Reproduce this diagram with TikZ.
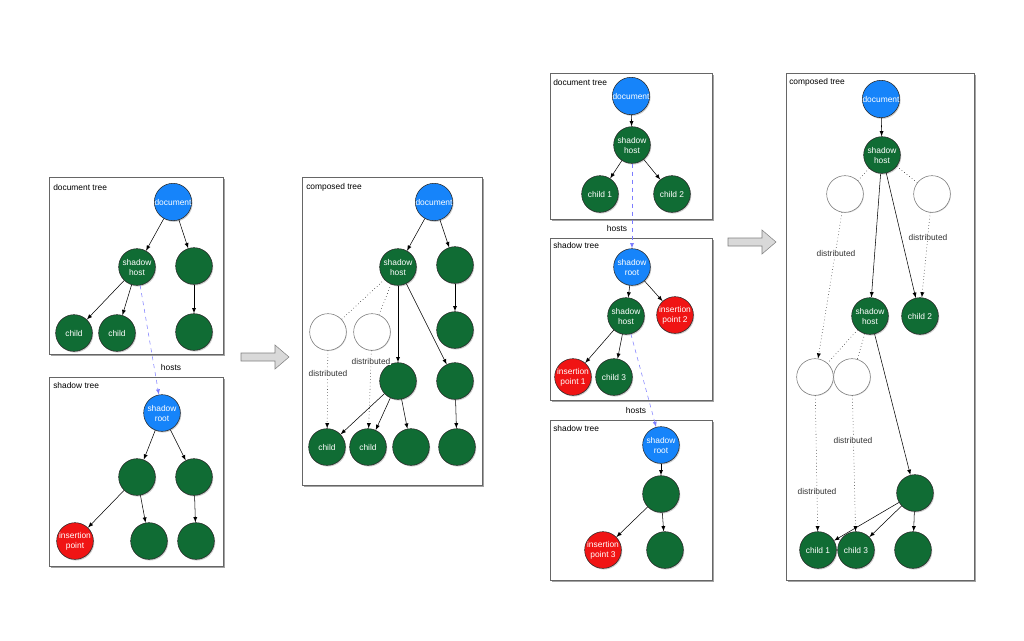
\documentclass[tikz,border=0pt]{standalone}
\usepackage{fontspec}
\setmainfont{Liberation Sans}
\usetikzlibrary{positioning,shadows}
\definecolor{docblue}{RGB}{22,132,250}
\definecolor{nodegreen}{RGB}{16,108,52}
\definecolor{ipred}{RGB}{240,20,20}
\definecolor{hostblue}{RGB}{125,125,255}

\tikzset{
  nd/.style={circle, draw=black!85, minimum size=27.5pt, inner sep=0pt, text=white, align=center,
    drop shadow={shadow xshift=0.7pt, shadow yshift=-0.9pt, opacity=0.4}},
  doc/.style={nd, fill=docblue},
  grn/.style={nd, fill=nodegreen},
  ins/.style={nd, fill=ipred},
  ghost/.style={circle, draw=black!55, fill=white, minimum size=27.5pt, inner sep=0pt,
    drop shadow={shadow xshift=0.5pt, shadow yshift=-0.5pt, opacity=0.25}},
  panel/.style={draw=black!60, fill=white,
    drop shadow={shadow xshift=1.5pt, shadow yshift=-1.5pt, fill=black!60, opacity=0.6}},
  ttl/.style={anchor=west, inner sep=0pt},
  dist/.style={fill=white, inner sep=0.5pt, text=black!80},
  hosts/.style={dashed, draw=hostblue, -latex},
  bigarrow/.style={draw=black!50, fill=black!15}
}

\begin{document}
\begin{tikzpicture}[x=0.75pt,y=-0.75pt, every node/.style={font=\fontsize{6.3}{7.5}\selectfont}]
  \useasboundingbox (0,0) rectangle (1024,640);

  % left: document tree
  \draw[panel] (49,177) rectangle (223,354);
  \node[ttl] (ta) at (53,187) {document tree};
  \node[doc] (a_doc) at (173,202) {document};
  \node[grn] (a_host) at (137,267) {shadow\\host};
  \node[grn] (a_r1) at (194,266) {};
  \node[grn] (a_c1) at (74,333) {child};
  \node[grn] (a_c2) at (117,333) {child};
  \node[grn] (a_r2) at (194,332) {};
  \draw[-latex] (a_doc) -- (a_host);
  \draw[-latex] (a_doc) -- (a_r1);
  \draw[-latex] (a_host) -- (a_c1);
  \draw[-latex] (a_host) -- (a_c2);
  \draw[-latex] (a_r1) -- (a_r2);

  % left: shadow tree
  \draw[panel] (49,377) rectangle (223,566);
  \node[ttl] (tb) at (53,385) {shadow tree};
  \node[doc] (b_root) at (162,413) {shadow\\root};
  \node[grn] (b_l) at (137,477) {};
  \node[grn] (b_r) at (194,477) {};
  \node[ins] (b_ip) at (75,541) {insertion\\point};
  \node[grn] (b_m) at (149,541) {};
  \node[grn] (b_rr) at (196,541) {};
  \draw[-latex] (b_root) -- (b_l);
  \draw[-latex] (b_root) -- (b_r);
  \draw[-latex] (b_l) -- (b_ip);
  \draw[-latex] (b_l) -- (b_m);
  \draw[-latex] (b_r) -- (b_rr);

  \draw[hosts] (a_host) -- (b_root);
  \node (h_ab) at (171,367) {hosts};

  % big arrows
  \foreach \ax/\ay in {241/357, 728/242}
    \draw[bigarrow] (\ax,\ay) ++(0,-4) -- ++(34,0) -- ++(0,-8) -- ++(14,12) -- ++(-14,12) -- ++(0,-8) -- ++(-34,0) -- cycle;

  % left: composed tree
  \draw[panel] (302,177) rectangle (482,485);
  \node[ttl] (tc) at (306,187) {composed tree};
  \node[doc] (c_doc) at (434,202) {document};
  \node[grn] (c_host) at (398,267) {shadow\\host};
  \node[grn] (c_r1) at (455,265) {};
  \node[grn] (c_r2) at (455,330) {};
  \node[ghost] (c_g1) at (328,332) {};
  \node[ghost] (c_g2) at (372,332) {};
  \node[grn] (c_m) at (398,381) {};
  \node[grn] (c_r3) at (455,381) {};
  \node[grn] (c_c1) at (327,447) {child};
  \node[grn] (c_c2) at (368,447) {child};
  \node[grn] (c_b3) at (411,447) {};
  \node[grn] (c_r4) at (457,447) {};
  \draw[-latex] (c_doc) -- (c_host);
  \draw[-latex] (c_doc) -- (c_r1);
  \draw[-latex] (c_r1) -- (c_r2);
  \draw[dotted] (c_host) -- (c_g1);
  \draw[dotted] (c_host) -- (c_g2);
  \draw[-latex] (c_host) -- (c_m);
  \draw[-latex] (c_host) -- (c_r3);
  \draw[dotted,-latex] (c_g1) -- (c_c1);
  \draw[dotted,-latex] (c_g2) -- (c_c2);
  \node[dist] (c_d1) at (328,373) {distributed};
  \node[dist] (c_d2) at (371,361) {distributed};
  \draw[-latex] (c_m) -- (c_c1);
  \draw[-latex] (c_m) -- (c_c2);
  \draw[-latex] (c_m) -- (c_b3);
  \draw[-latex] (c_r3) -- (c_r4);

  % right: document tree
  \draw[panel] (550,73) rectangle (712,219);
  \node[ttl] (td) at (553,82) {document tree};
  \node[doc] (d_doc) at (631,96) {document};
  \node[grn] (d_host) at (632,145) {shadow\\host};
  \node[grn] (d_c1) at (600,194) {child 1};
  \node[grn] (d_c2) at (672,194) {child 2};
  \draw[-latex] (d_doc) -- (d_host);
  \draw[-latex] (d_host) -- (d_c1);
  \draw[-latex] (d_host) -- (d_c2);

  % right: first shadow tree
  \draw[panel] (550,238) rectangle (712,400);
  \node[ttl] (te) at (553,245) {shadow tree};
  \node[doc] (e_root) at (632,267) {shadow\\root};
  \node[grn] (e_host) at (626,316) {shadow\\host};
  \node[ins] (e_ip2) at (675,315) {insertion\\point 2};
  \node[ins] (e_ip1) at (573,377) {insertion\\point 1};
  \node[grn] (e_c3) at (614,377) {child 3};
  \draw[-latex] (e_root) -- (e_host);
  \draw[-latex] (e_root) -- (e_ip2);
  \draw[-latex] (e_host) -- (e_ip1);
  \draw[-latex] (e_host) -- (e_c3);

  \draw[hosts] (d_host) -- (e_root);
  \node (h_de) at (617,228) {hosts};

  % right: second shadow tree
  \draw[panel] (550,420) rectangle (712,580);
  \node[ttl] (tf) at (553,428) {shadow tree};
  \node[doc] (f_root) at (661,445) {shadow\\root};
  \node[grn] (f_m) at (661,494) {};
  \node[ins] (f_ip3) at (603,550) {insertion\\point 3};
  \node[grn] (f_b) at (665,550) {};
  \draw[-latex] (f_root) -- (f_m);
  \draw[-latex] (f_m) -- (f_ip3);
  \draw[-latex] (f_m) -- (f_b);

  \draw[hosts] (e_host) -- (f_root);
  \node (h_ef) at (636,410) {hosts};

  % right: composed tree
  \draw[panel] (786,73) rectangle (974,580);
  \node[ttl] (tg) at (789,82) {composed tree};
  \node[doc] (g_doc) at (881,99) {document};
  \node[grn] (g_host) at (882,155) {shadow\\host};
  \node[ghost] (g_w1) at (845,194) {};
  \node[ghost] (g_w2) at (932,194) {};
  \node[grn] (g_host2) at (870,316) {shadow\\host};
  \node[grn] (g_c2) at (920,316) {child 2};
  \node[ghost] (g_w3) at (815,377) {};
  \node[ghost] (g_w4) at (852,377) {};
  \node[grn] (g_m) at (915,493) {};
  \node[grn] (g_c1) at (818,550) {child 1};
  \node[grn] (g_c3) at (856,550) {child 3};
  \node[grn] (g_b) at (913,550) {};
  \draw[-latex] (g_doc) -- (g_host);
  \draw[dotted] (g_host) -- (g_w1);
  \draw[dotted] (g_host) -- (g_w2);
  \draw[-latex] (g_host) -- (g_host2);
  \draw[-latex] (g_host) -- (g_c2);
  \draw[dotted,-latex] (g_w1) -- (g_w3);
  \draw[dotted,-latex] (g_w2) -- (g_c2);
  \node[dist] (g_d1) at (836,253) {distributed};
  \node[dist] (g_d2) at (928,237) {distributed};
  \draw[dotted] (g_host2) -- (g_w3);
  \draw[dotted] (g_host2) -- (g_w4);
  \draw[-latex] (g_host2) -- (g_m);
  \draw[dotted,-latex] (g_w3) -- (g_c1);
  \draw[dotted,-latex] (g_w4) -- (g_c3);
  \node[dist] (g_d3) at (853,440) {distributed};
  \node[dist] (g_d4) at (817,491) {distributed};
  \draw[-latex] (g_m) -- (g_c1);
  \draw[-latex] (g_m) -- (g_c3);
  \draw[-latex] (g_m) -- (g_b);
\end{tikzpicture}
\end{document}
